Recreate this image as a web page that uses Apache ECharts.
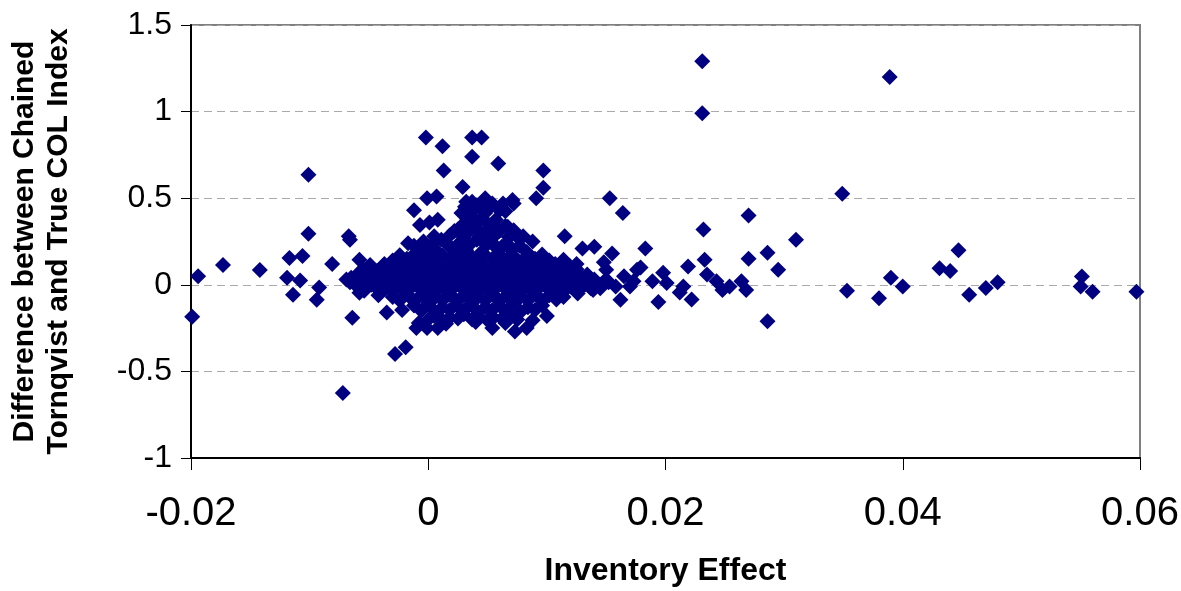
<!DOCTYPE html>
<html>
<head>
<meta charset="utf-8">
<script src="https://cdn.jsdelivr.net/npm/echarts@6/dist/echarts.min.js"></script>
<style>
  html, body { margin: 0; padding: 0; background: #fff; }
  #chart { width: 1181px; height: 591px; }
</style>
</head>
<body>
<div id="chart"></div>
<script>
// axis ticks
var xTicks = [-0.02, 0, 0.02, 0.04, 0.06];
var yTicks = [-1, -0.5, 0, 0.5, 1, 1.5];

// points left of the main cluster
var leftPoints = [
  [-0.0199, -0.185], [-0.0194, 0.05], [-0.0173, 0.115], [-0.0142, 0.085],
  [-0.0117, 0.155], [-0.0106, 0.167], [-0.0101, 0.295], [-0.0101, 0.635],
  [-0.0119, 0.04], [-0.0108, 0.025], [-0.0114, -0.058], [-0.0092, -0.015],
  [-0.0094, -0.087], [-0.0081, 0.12], [-0.0072, -0.625], [-0.0067, 0.28],
  [-0.0066, 0.26], [-0.0064, -0.19], [-0.0058, 0.145], [-0.0069, 0.03],
  [-0.0058, -0.046], [-0.0035, -0.16], [-0.0022, -0.145], [-0.0028, -0.4],
  [-0.0019, -0.36], [-0.001, -0.25]
];

// points above the main cluster
var upperPoints = [
  [-0.0002, 0.85], [0.0012, 0.80], [0.0037, 0.85], [0.0045, 0.85],
  [0.0037, 0.74], [0.0059, 0.70], [0.0013, 0.66], [0.0097, 0.66],
  [0.0097, 0.56], [0.0091, 0.50], [0.0029, 0.565], [-0.0001, 0.50],
  [0.0007, 0.51], [0.0032, 0.48], [0.0048, 0.50], [0.0054, 0.47],
  [0.0063, 0.47], [0.0072, 0.47], [-0.0012, 0.43], [0.0028, 0.415],
  [0.0048, 0.415], [0.0032, 0.36], [0.0049, 0.36], [0.0067, 0.335],
  [-0.0007, 0.345], [0.0001, 0.36], [0.0008, 0.375], [0.0025, 0.32],
  [-0.0017, 0.24], [0.0115, 0.28], [0.0071, 0.49], [0.006, 0.43],
  [0.0037, 0.39], [0.0054, 0.29], [0.0041, 0.46], [0.0037, 0.48],
  [0.0044, 0.3], [0.0076, 0.27], [0.0088, 0.25],
  [0.0005, 0.28], [0.0018, 0.285], [0.003, 0.275], [0.0043, 0.28], [0.0056, 0.285], [0.0068, 0.275], [0.008, 0.28],
  [0.0022, 0.31], [0.0035, 0.315], [0.0048, 0.305], [0.006, 0.31], [0.0072, 0.315],
  [0.0028, 0.34], [0.004, 0.345], [0.0053, 0.335], [0.0065, 0.34],
  [0.0033, 0.38], [0.0045, 0.385], [0.0057, 0.375],
  [0.0038, 0.43], [0.005, 0.435], [0.0065, 0.425], [0.0031, 0.45], [0.0044, 0.455]
];

// dense cluster around zero
var clusterPoints = [
  [-0.0004, 0.25], [0.0011, 0.26], [0.0026, 0.24], [0.0041, 0.26], [0.0053, 0.25], [0.0066, 0.24],
  [-0.0012, 0.225], [0.0003, 0.23], [0.0018, 0.22], [0.0034, 0.225], [0.0049, 0.23], [0.0062, 0.22], [0.0077, 0.225],
  [-0.0005, 0.2], [0.0008, 0.19], [0.002, 0.21], [0.0032, 0.2], [0.0045, 0.19], [0.0058, 0.21], [0.007, 0.2], [0.0083, 0.19],
  [-0.0024, 0.17], [-0.0012, 0.175], [0.0, 0.165], [0.0012, 0.17], [0.0024, 0.175], [0.0036, 0.165],
  [0.0048, 0.17], [0.006, 0.175], [0.0072, 0.165], [0.0084, 0.17], [0.0096, 0.175],
  [-0.003, 0.14], [-0.0018, 0.15], [-0.0006, 0.13], [0.0006, 0.14], [0.0018, 0.15], [0.003, 0.14],
  [0.0042, 0.13], [0.0054, 0.15], [0.0066, 0.14], [0.0078, 0.13], [0.009, 0.15], [0.0102, 0.14],
  [-0.0049, 0.115], [-0.0037, 0.12], [-0.0025, 0.11], [-0.0013, 0.115], [-0.0001, 0.12], [0.0011, 0.11],
  [0.0023, 0.115], [0.0035, 0.12], [0.0047, 0.11], [0.0059, 0.115], [0.0071, 0.12], [0.0083, 0.11],
  [0.0095, 0.115], [0.0107, 0.12], [0.0119, 0.11],
  [-0.0055, 0.09], [-0.0043, 0.08], [-0.0031, 0.1], [-0.0019, 0.09], [-0.0007, 0.08], [0.0005, 0.1],
  [0.0017, 0.09], [0.0029, 0.08], [0.0041, 0.1], [0.0053, 0.09], [0.0065, 0.08], [0.0077, 0.1],
  [0.0089, 0.09], [0.0101, 0.08], [0.0113, 0.1], [0.0125, 0.09],
  [-0.0059, 0.065], [-0.0047, 0.06], [-0.0035, 0.07], [-0.0023, 0.065], [-0.0011, 0.06], [0.0001, 0.07],
  [0.0013, 0.065], [0.0025, 0.06], [0.0037, 0.07], [0.0049, 0.065], [0.0061, 0.06], [0.0073, 0.07],
  [0.0085, 0.065], [0.0097, 0.06], [0.0109, 0.07], [0.0121, 0.065], [0.0134, 0.06],
  [-0.0065, 0.04], [-0.0052, 0.05], [-0.004, 0.03], [-0.0028, 0.04], [-0.0016, 0.05], [-0.0004, 0.03],
  [0.0008, 0.04], [0.002, 0.05], [0.0032, 0.03], [0.0044, 0.04], [0.0056, 0.05], [0.0068, 0.03],
  [0.008, 0.04], [0.0092, 0.05], [0.0104, 0.03], [0.0116, 0.04], [0.0128, 0.05], [0.014, 0.03],
  [-0.0066, 0.015], [-0.0054, 0.02], [-0.0042, 0.01], [-0.003, 0.015], [-0.0018, 0.02], [-0.0006, 0.01],
  [0.0006, 0.015], [0.0018, 0.02], [0.003, 0.01], [0.0042, 0.015], [0.0054, 0.02], [0.0066, 0.01],
  [0.0078, 0.015], [0.009, 0.02], [0.0102, 0.01], [0.0114, 0.015], [0.0126, 0.02], [0.0139, 0.01], [0.0152, 0.015],
  [-0.006, -0.01], [-0.0048, 0.0], [-0.0036, -0.02], [-0.0024, -0.01], [-0.0012, 0.0], [0.0, -0.02],
  [0.0012, -0.01], [0.0024, 0.0], [0.0036, -0.02], [0.0048, -0.01], [0.006, 0.0], [0.0072, -0.02],
  [0.0084, -0.01], [0.0096, 0.0], [0.0108, -0.02], [0.012, -0.01], [0.0132, 0.0], [0.0145, -0.02], [0.0158, -0.01],
  [-0.0054, -0.035], [-0.0042, -0.03], [-0.003, -0.04], [-0.0018, -0.035], [-0.0006, -0.03], [0.0006, -0.04],
  [0.0018, -0.035], [0.003, -0.03], [0.0042, -0.04], [0.0054, -0.035], [0.0066, -0.03], [0.0078, -0.04],
  [0.009, -0.035], [0.0102, -0.03], [0.0114, -0.04], [0.0126, -0.035], [0.0139, -0.03],
  [-0.0042, -0.06], [-0.003, -0.07], [-0.0018, -0.05], [-0.0006, -0.06], [0.0006, -0.07], [0.0018, -0.05],
  [0.003, -0.06], [0.0042, -0.07], [0.0054, -0.05], [0.0066, -0.06], [0.0078, -0.07], [0.009, -0.05],
  [0.0102, -0.06], [0.0114, -0.07], [0.0126, -0.05],
  [-0.0024, -0.09], [-0.0012, -0.095], [0.0, -0.085], [0.0012, -0.09], [0.0024, -0.095], [0.0036, -0.085],
  [0.0048, -0.09], [0.006, -0.095], [0.0072, -0.085], [0.0084, -0.09], [0.0096, -0.095], [0.0108, -0.085],
  [-0.0012, -0.12], [0.0, -0.11], [0.0012, -0.13], [0.0024, -0.12], [0.0036, -0.11], [0.0048, -0.13],
  [0.006, -0.12], [0.0072, -0.11], [0.0084, -0.13], [0.0096, -0.12],
  [-0.0006, -0.15], [0.0006, -0.155], [0.0018, -0.145], [0.003, -0.15], [0.0042, -0.155], [0.0054, -0.145],
  [0.0066, -0.15], [0.0078, -0.155], [0.009, -0.145],
  [0.0005, -0.18], [0.0018, -0.19], [0.003, -0.17], [0.0042, -0.18], [0.0055, -0.19], [0.0068, -0.17],
  [0.0, -0.2], [0.0012, -0.205], [0.0025, -0.195], [0.0037, -0.2], [0.005, -0.205], [0.0062, -0.195],
  [0.0075, -0.2], [0.0088, -0.205], [-0.0008, -0.22], [0.0015, -0.225], [0.004, -0.215], [0.0065, -0.22],
  [-0.0001, -0.25], [0.0008, -0.25], [0.0054, -0.25], [0.0073, -0.27], [0.0083, -0.25], [0.01, -0.18]
];

// points right of the main cluster
var rightPoints = [
  [0.0231, 1.29], [0.0231, 0.99], [0.0389, 1.2], [0.0349, 0.525],
  [0.0153, 0.5], [0.0164, 0.415], [0.0232, 0.32], [0.027, 0.4],
  [0.031, 0.26], [0.0183, 0.21], [0.0155, 0.18], [0.0286, 0.185],
  [0.027, 0.15], [0.0295, 0.087], [0.0233, 0.145], [0.0219, 0.105],
  [0.0198, 0.07], [0.0189, 0.02], [0.0201, 0.01], [0.0194, -0.1],
  [0.0162, -0.087], [0.0215, -0.01], [0.0212, -0.045], [0.0222, -0.085],
  [0.0235, 0.06], [0.0243, 0.02], [0.0248, -0.03], [0.0254, -0.01],
  [0.0264, 0.02], [0.0268, -0.03], [0.0286, -0.21], [0.0447, 0.2],
  [0.0431, 0.096], [0.044, 0.08], [0.039, 0.04], [0.04, -0.01],
  [0.0353, -0.035], [0.038, -0.078], [0.0456, -0.058], [0.047, -0.018],
  [0.048, 0.015], [0.0551, 0.048], [0.055, -0.01], [0.056, -0.04],
  [0.0597, -0.04], [0.013, 0.21], [0.014, 0.22], [0.0176, 0.087],
  [0.0173, 0.02], [0.0179, 0.1], [0.0165, 0.05], [0.015, 0.087],
  [0.0147, 0.01], [0.017, -0.01], [0.0114, 0.145], [0.0119, 0.0],
  [0.0137, -0.02], [0.015, 0.03], [0.0148, 0.13], [0.0125, 0.12]
];

var chart = echarts.init(document.getElementById('chart'));
var font = 'Liberation Sans, Arial, sans-serif';
var allPoints = leftPoints.concat(upperPoints, clusterPoints, rightPoints);

chart.setOption({
  animation: false,
  backgroundColor: '#fff',
  grid: {
    left: 191, right: 41, top: 25, bottom: 133,
    outerBoundsMode: 'none',
    containLabel: false,
    show: true, borderColor: '#808080', borderWidth: 2
  },
  xAxis: {
    type: 'value',
    min: xTicks[0], max: xTicks[xTicks.length - 1], interval: 0.02,
    name: 'Inventory Effect',
    nameLocation: 'middle', nameGap: 97,
    nameTextStyle: { fontFamily: font, fontWeight: 'bold', fontSize: 32, color: '#000' },
    axisLine: { onZero: false, lineStyle: { color: '#000', width: 2 } },
    axisTick: { length: 12, lineStyle: { color: '#000' } },
    axisLabel: { margin: 36, fontFamily: font, fontSize: 40, color: '#000' },
    splitLine: { show: false }
  },
  yAxis: {
    type: 'value',
    min: yTicks[0], max: yTicks[yTicks.length - 1], interval: 0.5,
    name: 'Difference between Chained\nTornqvist and True COL Index',
    nameLocation: 'middle', nameGap: 115, nameRotate: 90,
    nameTextStyle: { fontFamily: font, fontWeight: 'bold', fontSize: 30, lineHeight: 34, color: '#000' },
    axisLine: { onZero: false, lineStyle: { color: '#000', width: 2 } },
    axisTick: { length: 10, lineStyle: { color: '#000' } },
    axisLabel: { margin: 19, fontFamily: font, fontSize: 32, color: '#000' },
    splitLine: { show: true, lineStyle: { color: '#aaaaaa', type: [8, 5], width: 1 } }
  },
  series: [{
    type: 'scatter',
    symbol: 'diamond',
    symbolSize: 16,
    itemStyle: { color: '#000080', opacity: 1 },
    data: allPoints
  }]
});
</script>
</body>
</html>
